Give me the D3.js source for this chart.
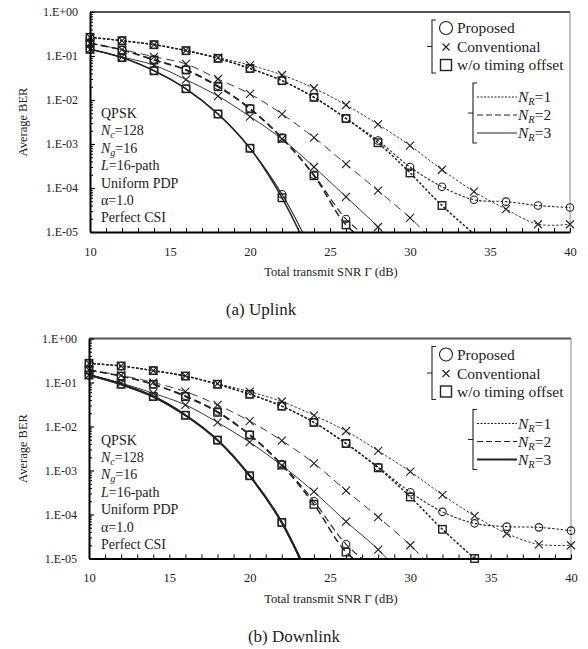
<!DOCTYPE html>
<html><head><meta charset="utf-8">
<script src="https://cdn.jsdelivr.net/npm/d3@7"></script>
<style>
body{margin:0;background:#fff}
svg{display:block}
text{font-family:"Liberation Serif","Times New Roman",serif;fill:#222}
</style>
</head><body><svg id="c" width="588" height="649"></svg>
<script>
// ---------- data ----------
const snr = [10,12,14,16,18,20,22,24,26,28,30,32,34,36,38,40];
const xTickLabels = [10,15,20,25,30,35,40];
const yTickValues = [1,1e-1,1e-2,1e-3,1e-4,1e-5];
const methods = ["Proposed","Conventional","w/o timing offset"];
const nrLabels = ["1","2","3"];

// Uplink
const upProp1 = [0.266,0.223,0.181,0.132,0.0885,0.052,0.0275,0.0115,0.0038,0.0012,3.0e-4,1.07e-4,5.4e-5,4.9e-5,4.0e-5,3.6e-5];
const upConv1 = [0.266,0.223,0.181,0.134,0.092,0.062,0.037,0.0185,0.0077,0.0028,9.2e-4,2.6e-4,8.3e-5,3.3e-5,1.5e-5,1.5e-5];
const upWo1   = [0.266,0.223,0.181,0.132,0.0885,0.052,0.0275,0.0115,0.0038,0.00107,2.2e-4,4.0e-5,9e-6,null,null,null];
const upProp2 = [0.195,0.137,0.083,0.049,0.021,0.0065,0.0014,2.0e-4,1.97e-5,5e-6,null,null,null,null,null,null];
const upConv2 = [0.195,0.14,0.096,0.066,0.030,0.0137,0.0048,0.0014,3.5e-4,8.7e-5,2.1e-5,4e-6,null,null,null,null];
const upWo2   = [0.195,0.137,0.081,0.048,0.020,0.0063,0.00135,1.9e-4,1.45e-5,4e-6,null,null,null,null,null,null];
const upProp3 = [0.142,0.092,0.047,0.018,0.0048,8.0e-4,7.2e-5,3e-6,null,null,null,null,null,null,null,null];
const upConv3 = [0.142,0.095,0.062,0.029,0.0123,0.0042,0.0013,3.0e-4,6.3e-5,1.3e-5,2e-6,null,null,null,null,null];
const upWo3   = [0.142,0.092,0.046,0.018,0.0048,8.0e-4,6.0e-5,2e-6,null,null,null,null,null,null,null,null];

// Downlink
const dnProp1 = [0.273,0.237,0.186,0.14,0.091,0.054,0.029,0.0124,0.0041,0.0012,3.2e-4,1.15e-4,6.3e-5,5.3e-5,5.1e-5,4.3e-5];
const dnConv1 = [0.273,0.237,0.186,0.142,0.094,0.062,0.037,0.018,0.0079,0.0028,9.4e-4,2.8e-4,9.3e-5,3.7e-5,2.1e-5,2.0e-5];
const dnWo1   = [0.273,0.237,0.186,0.14,0.091,0.054,0.029,0.0124,0.0041,0.00115,2.5e-4,4.6e-5,1.0e-5,null,null,null];
const dnProp2 = [0.192,0.14,0.091,0.05,0.022,0.0066,0.0014,2.0e-4,2.1e-5,5e-6,null,null,null,null,null,null];
const dnConv2 = [0.192,0.145,0.10,0.062,0.031,0.0133,0.0048,0.00146,3.5e-4,8.7e-5,2.0e-5,3.5e-6,null,null,null,null];
const dnWo2   = [0.192,0.14,0.091,0.048,0.021,0.0064,0.00133,1.7e-4,1.4e-5,4e-6,null,null,null,null,null,null];
const dnProp3 = [0.148,0.091,0.048,0.018,0.0049,7.6e-4,6.6e-5,2e-6,null,null,null,null,null,null,null,null];
const dnConv3 = [0.148,0.097,0.057,0.031,0.0124,0.0044,0.0013,3.3e-4,6.9e-5,1.6e-5,2.5e-6,null,null,null,null,null];
const dnWo3   = [0.148,0.091,0.048,0.018,0.0049,7.6e-4,6.6e-5,2e-6,null,null,null,null,null,null,null,null];

const infoLines = ["QPSK","Nc=128","Ng=16","L=16-path","Uniform PDP","α=1.0","Perfect CSI"];

// ---------- drawing ----------
const svg = d3.select("#c");
const INK = "#222";

const panels = [
  {id:"up", top:12, bottom:232, left:90, right:570, caption:"(a) Uplink", capX:261, capY:315, thick3:false,
   series:[[upProp1,0,0],[upConv1,0,1],[upWo1,0,2],[upProp2,1,0],[upConv2,1,1],[upWo2,1,2],[upProp3,2,0],[upConv3,2,1],[upWo3,2,2]]},
  {id:"dn", top:338.5, bottom:558.5, left:89, right:571, caption:"(b) Downlink", capX:294, capY:642, thick3:true,
   series:[[dnProp1,0,0],[dnConv1,0,1],[dnWo1,0,2],[dnProp2,1,0],[dnConv2,1,1],[dnWo2,1,2],[dnProp3,2,0],[dnConv3,2,1],[dnWo3,2,2]]}
];

const dashFor = nr => nr===0 ? "2.5,1.8" : nr===1 ? "7,4" : null;

function fmt(v){ const e = Math.round(Math.log10(v)); return "1.E" + (e>=0?"+":"-") + String(Math.abs(e)).padStart(2,"0"); }

function marker(g, type, cx, cy, s){
  if(type===0){
    g.append("circle").attr("cx",cx).attr("cy",cy).attr("r",s*0.5)
      .attr("fill","none").attr("stroke",INK).attr("stroke-width",1.1);
  } else if(type===1){
    const h = s*0.5;
    g.append("path").attr("d",`M${cx-h},${cy-h}L${cx+h},${cy+h}M${cx-h},${cy+h}L${cx+h},${cy-h}`)
      .attr("stroke",INK).attr("stroke-width",1.1).attr("fill","none");
  } else {
    const h = s*0.5;
    g.append("rect").attr("x",cx-h).attr("y",cy-h).attr("width",s).attr("height",s)
      .attr("fill","none").attr("stroke",INK).attr("stroke-width",1.4);
  }
}

panels.forEach(p => {
  const x = d3.scaleLinear().domain([10,40]).range([p.left,p.right]);
  const y = d3.scaleLog().domain([1e-5,1]).range([p.bottom,p.top]);
  const g = svg.append("g");

  g.append("clipPath").attr("id","clip-"+p.id).append("rect")
    .attr("x",p.left).attr("y",p.top).attr("width",p.right-p.left).attr("height",p.bottom-p.top);

  // frame (top & right)
  g.append("line").attr("x1",p.left).attr("x2",p.right).attr("y1",p.top).attr("y2",p.top)
    .attr("stroke","#555").attr("stroke-width",2);
  g.append("line").attr("x1",p.right).attr("x2",p.right).attr("y1",p.top).attr("y2",p.bottom)
    .attr("stroke","#888").attr("stroke-width",1);

  // curves
  const line = d3.line().defined(d=>d[1]!=null).x(d=>x(d[0])).y(d=>y(d[1])).curve(d3.curveCatmullRom.alpha(0.5));
  const cg = g.append("g").attr("clip-path",`url(#clip-${p.id})`);
  p.series.forEach(([vals,nr,m]) => {
    const pts = snr.map((s,i)=>[s,vals[i]]).filter(d=>d[1]!=null);
    let w = m===2 ? 1.5 : m===0 ? 1.1 : 0.9;
    if(p.thick3 && nr===2 && m!==1) w = 2.0;
    const dash = nr===1 && m===1 ? "8,5" : dashFor(nr);
    cg.append("path").attr("d",line(pts)).attr("fill","none").attr("stroke",INK)
      .attr("stroke-width",w).attr("stroke-dasharray",dash);
  });
  // markers
  const mg = g.append("g");
  p.series.forEach(([vals,nr,m]) => {
    snr.forEach((s,i)=>{
      const v = vals[i];
      if(v==null || v < 0.99e-5) return;
      marker(mg, m, x(s), y(v), m===1 ? 8 : 7.5);
    });
  });

  // axes
  const xa = d3.axisBottom(x).tickValues(d3.range(10,41,1)).tickSizeInner(-4).tickSizeOuter(0).tickPadding(15)
    .tickFormat(d => xTickLabels.includes(d) ? d : "");
  const xg = g.append("g").attr("transform",`translate(0,${p.bottom})`).call(xa);
  xg.select(".domain").attr("stroke","#000").attr("stroke-width",2);
  xg.selectAll(".tick line").attr("stroke","#000").attr("stroke-width",1);
  xg.selectAll("text").attr("font-size",12.5).attr("font-family","Liberation Serif").attr("fill",INK);

  const minors = [];
  for(let e=-5;e<0;e++) for(let k=2;k<=9;k++) minors.push(k*Math.pow(10,e));
  const yam = d3.axisLeft(y).tickValues(minors).tickSizeInner(-3).tickSizeOuter(0).tickFormat("");
  const ygm = g.append("g").attr("transform",`translate(${p.left},0)`).call(yam);
  ygm.select(".domain").remove();
  ygm.selectAll(".tick line").attr("stroke","#000").attr("stroke-width",1);

  const ya = d3.axisLeft(y).tickValues(yTickValues).tickSizeInner(-5).tickSizeOuter(0).tickPadding(12).tickFormat(fmt);
  const yg = g.append("g").attr("transform",`translate(${p.left},0)`).call(ya);
  yg.select(".domain").attr("stroke","#000").attr("stroke-width",2);
  yg.selectAll(".tick line").attr("stroke","#000").attr("stroke-width",1.2);
  yg.selectAll("text").attr("font-size",12).attr("font-family","Liberation Serif").attr("fill",INK);

  // axis titles
  g.append("text").attr("x",331).attr("y",p.bottom+44).attr("text-anchor","middle").attr("font-size",12.5)
    .text("Total transmit SNR Γ (dB)");
  g.append("text").attr("transform",`translate(27,${(p.top+p.bottom)/2}) rotate(-90)`).attr("text-anchor","middle")
    .attr("font-size",12.5).text("Average BER");

  // caption
  g.append("text").attr("x",p.capX).attr("y",p.capY).attr("text-anchor","middle").attr("font-size",17).text(p.caption);

  // info text
  const ix = 101, iy0 = p.top+106, dy = 17.4;
  infoLines.forEach((t,i)=>{
    const tx = g.append("text").attr("x",ix).attr("y",iy0+i*dy).attr("font-size",14);
    if(t.startsWith("Nc")||t.startsWith("Ng")){
      tx.append("tspan").attr("font-style","italic").text("N");
      tx.append("tspan").attr("font-style","italic").attr("font-size",10).attr("dy",3).text(t[1]);
      tx.append("tspan").attr("dy",-3).text(t.slice(2));
    } else if(t.startsWith("L=")){
      tx.append("tspan").attr("font-style","italic").text("L");
      tx.append("tspan").text(t.slice(1));
    } else tx.text(t);
  });

  // legend: markers
  const bx = 432, bt = p.top+8, bb = p.top+61;
  const br = (xx,t,b) => {
    g.append("path").attr("d",`M${xx+4},${t}L${xx},${t}L${xx},${b}L${xx+4},${b}M${xx},${(t+b)/2}L${xx-5},${(t+b)/2}`)
      .attr("fill","none").attr("stroke",INK).attr("stroke-width",1.1);
  };
  br(bx,bt,bb);
  const rows = [p.top+16,p.top+35,p.top+53];
  methods.forEach((mname,i)=>{
    marker(g, i, 446, rows[i], i===0 ? 13 : i===1 ? 7 : 11);
    g.append("text").attr("x",457).attr("y",rows[i]+5).attr("font-size",15.5).text(mname);
  });
  // legend: lines
  const lx = 473, lt = p.top+71, lb = p.top+131;
  br(lx,lt,lb);
  const lrows = [p.top+85,p.top+103,p.top+121];
  nrLabels.forEach((n,i)=>{
    let w = (i===2 && p.thick3) ? 2 : 1;
    g.append("line").attr("x1",477).attr("x2",517).attr("y1",lrows[i]).attr("y2",lrows[i])
      .attr("stroke",INK).attr("stroke-width",w).attr("stroke-dasharray", i===0 ? "2,1.5" : i===1 ? "6,3" : null);
    const tx = g.append("text").attr("x",518).attr("y",lrows[i]+5).attr("font-size",15.5);
    tx.append("tspan").attr("font-style","italic").text("N");
    tx.append("tspan").attr("font-style","italic").attr("font-size",10.5).attr("dy",3).text("R");
    tx.append("tspan").attr("dy",-3).text("="+n);
  });
});
</script>
</body></html>
